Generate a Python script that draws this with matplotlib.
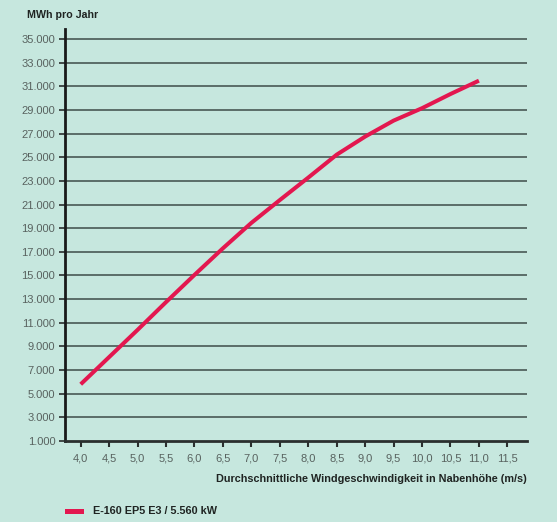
import matplotlib
matplotlib.use("Agg")
import matplotlib.pyplot as plt
from matplotlib.patches import Rectangle
from matplotlib.ticker import FixedLocator, FuncFormatter

# Data
wind_speed = [4.0, 4.5, 5.0, 5.5, 6.0, 6.5, 7.0, 7.5, 8.0, 8.5, 9.0, 9.5, 10.0, 10.5, 11.0]
energy_mwh = [5800, 8100, 10400, 12750, 15050, 17300, 19450, 21380, 23280, 25220, 26750,
              28100, 29150, 30350, 31480]
x_ticks = [4.0, 4.5, 5.0, 5.5, 6.0, 6.5, 7.0, 7.5, 8.0, 8.5, 9.0, 9.5, 10.0, 10.5, 11.0, 11.5]
y_ticks = list(range(1000, 35001, 2000))
series_label = "E-160 EP5 E3 / 5.560 kW"
y_title = "MWh pro Jahr"
x_title = "Durchschnittliche Windgeschwindigkeit in Nabenhöhe (m/s)"

BG = "#c6e7de"
RED = "#e3174f"
GRID = "#3e4d49"
TXT = "#58625f"
BOLD = "#1f2422"
FONT = ["Liberation Sans", "DejaVu Sans"]

fig = plt.figure(figsize=(5.57, 5.22), dpi=100, facecolor=BG)
ax = fig.add_axes([65/557, 81/522, (526.7-65)/557, (441-29)/522])
ax.set_facecolor(BG)

ax.set_xlim(3.724, 11.84)
ax.set_ylim(1000, 35850)

for yv in y_ticks[1:]:
    ax.axhline(yv, color=GRID, lw=1.1, zorder=1)

ax.plot(wind_speed, energy_mwh, color=RED, lw=2.9, solid_capstyle="butt",
        solid_joinstyle="round", zorder=3)

for s in ["top", "right"]:
    ax.spines[s].set_visible(False)
ax.spines["left"].set_linewidth(2.0)
ax.spines["bottom"].set_linewidth(2.0)
ax.spines["left"].set_color("#1a1a1a")
ax.spines["bottom"].set_color("#2a2f2e")

ax.xaxis.set_major_locator(FixedLocator(x_ticks))
ax.xaxis.set_major_formatter(FuncFormatter(lambda v, p: f"{v:.1f}".replace(".", ",")))
ax.yaxis.set_major_locator(FixedLocator(y_ticks))
ax.yaxis.set_major_formatter(FuncFormatter(lambda v, p: f"{int(v):,}".replace(",", ".")))

ax.tick_params(axis="x", length=4, width=1.5, color="#2a2f2e", pad=5,
               labelsize=8, labelcolor=TXT)
ax.tick_params(axis="y", length=4, width=1.2, color="#2a2f2e", pad=3,
               labelsize=8, labelcolor=TXT)
for lab in ax.get_xticklabels() + ax.get_yticklabels():
    lab.set_family(FONT)

fig.text(27/557, 1 - 15/522, y_title, ha="left", va="center", fontsize=7.7,
         fontweight="bold", color=BOLD, family=FONT)
fig.text(527/557, 1 - 479/522, x_title, ha="right", va="center", fontsize=7.8,
         fontweight="bold", color=BOLD, family=FONT)

fig.patches.append(Rectangle((65/557, 1 - 513.5/522), 19/557, 5/522,
                             transform=fig.transFigure, facecolor=RED, edgecolor="none"))
fig.text(93/557, 1 - 511/522, series_label, ha="left", va="center", fontsize=7.8,
         fontweight="bold", color=BOLD, family=FONT)

fig.savefig("out.png", dpi=100, facecolor=BG)
